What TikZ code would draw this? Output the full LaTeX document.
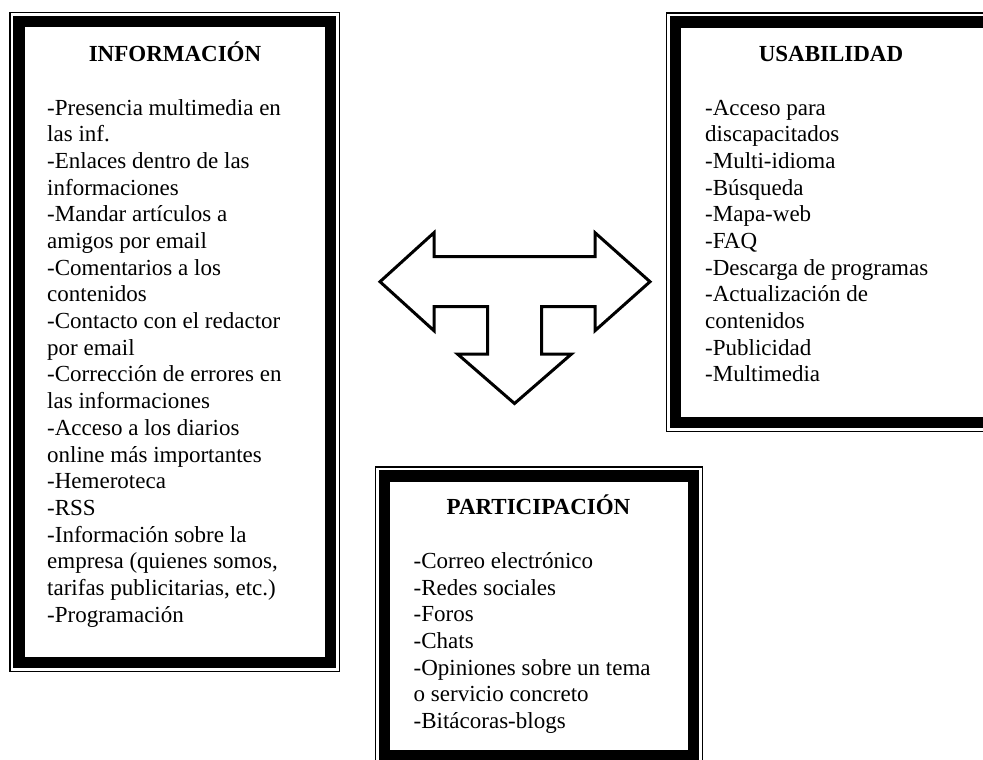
\documentclass[tikz,border=0pt]{standalone}
\usepackage{fontspec}
\setmainfont{Liberation Serif}
\newcommand{\bodytext}[1]{\parbox[t]{300pt}{\raggedright\fontsize{23}{26.7}\selectfont #1}}
\newcommand{\dframe}[4]{%
  \draw[thinframe] (#1+0.75,#2+0.75) rectangle (#3-0.75,#4-0.75);
  \draw[thickframe] (#1+9.75,#2+9.75) rectangle (#3-9.75,#4-9.75);}
\tikzset{
  thinframe/.style={line width=1.5pt, draw=black},
  thickframe/.style={line width=11.5pt, draw=black, line join=miter},
  titletext/.style={anchor=base, inner sep=0pt, font=\fontsize{23}{26.7}\selectfont\bfseries},
  bodynode/.style={anchor=base west, inner sep=0pt},
  bigarrow/.style={line width=3pt, draw=black, fill=white, line join=miter}
}
\begin{document}
\begin{tikzpicture}[x=1pt,y=-1pt]
\useasboundingbox (0,0) rectangle (983,760);
\clip (0,0) rectangle (983,760);
\fill[white] (0,0) rectangle (983,760);

% frames
\dframe{9}{12}{340}{672}
\dframe{665.5}{12.3}{998}{432}
\dframe{374.5}{466}{703}{765.5}

% arrow
\draw[bigarrow] (380,281.7) -- (434,232.7) -- (434,256.7) -- (595,256.7) -- (595,232.7)
  -- (650,281.7) -- (595,330.7) -- (595,306.7) -- (541.5,306.7) -- (541.5,354)
  -- (571.5,354) -- (514.5,403.5) -- (457.5,354) -- (487.5,354) -- (487.5,306.7)
  -- (434,306.7) -- (434,330.7) -- cycle;

% INFORMACION
\node[titletext] (t1) at (175,61.5) {INFORMACIÓN};
\node[bodynode] (b1) at (47,115) {\bodytext{%
-Presencia multimedia en\\
las inf.\\
-Enlaces dentro de las\\
informaciones\\
-Mandar artículos a\\
amigos por email\\
-Comentarios a los\\
contenidos\\
-Contacto con el redactor\\
por email\\
-Corrección de errores en\\
las informaciones\\
-Acceso a los diarios\\
online más importantes\\
-Hemeroteca\\
-RSS\\
-Información sobre la\\
empresa (quienes somos,\\
tarifas publicitarias, etc.)\\
-Programación}};

% USABILIDAD
\node[titletext] (t2) at (831,61.7) {USABILIDAD};
\node[bodynode] (b2) at (705,115) {\bodytext{%
-Acceso para\\
discapacitados\\
-Multi-idioma\\
-Búsqueda\\
-Mapa-web\\
-FAQ\\
-Descarga de programas\\
-Actualización de\\
contenidos\\
-Publicidad\\
-Multimedia}};

% PARTICIPACION
\node[titletext] (t3) at (538.5,514) {PARTICIPACIÓN};
\node[bodynode] (b3) at (413.5,568.3) {\bodytext{%
-Correo electrónico\\
-Redes sociales\\
-Foros\\
-Chats\\
-Opiniones sobre un tema\\
o servicio concreto\\
-Bitácoras-blogs}};
\end{tikzpicture}
\end{document}
